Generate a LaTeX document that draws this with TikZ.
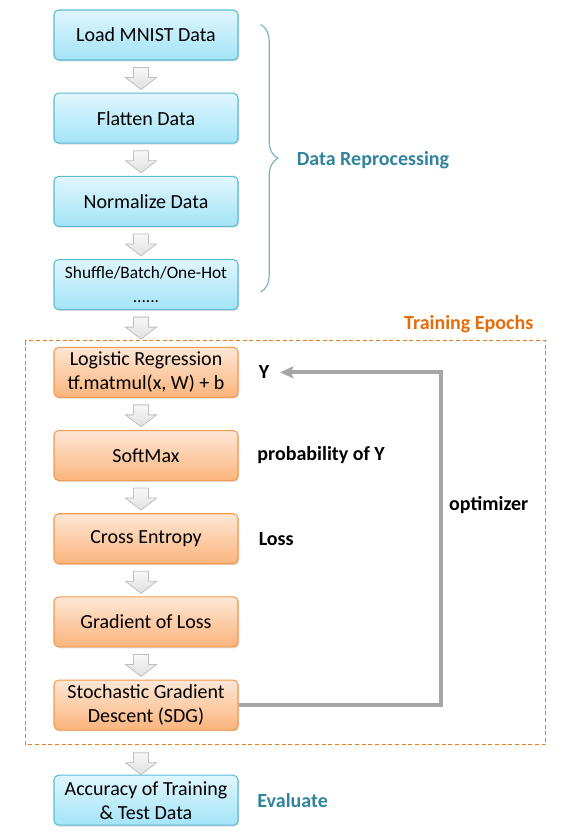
\documentclass[tikz,border=0pt]{standalone}
\usepackage{fontspec}
\setmainfont{Carlito}
\usetikzlibrary{calc}
\usetikzlibrary{arrows.meta}
\usetikzlibrary{positioning}
\usetikzlibrary{shadows}
\usetikzlibrary{decorations.pathreplacing}

\definecolor{cyantop}{HTML}{E0F6FD}
\definecolor{cyanbot}{HTML}{A3E4F7}
\definecolor{cyanline}{HTML}{5BBCD6}
\definecolor{orangetop}{HTML}{FDE7D6}
\definecolor{orangebot}{HTML}{FBB47C}
\definecolor{orangeline}{HTML}{F59A4E}
\definecolor{tealtext}{HTML}{31849B}
\definecolor{orangetext}{HTML}{E46C0A}
\definecolor{framecol}{HTML}{EC7C24}
\definecolor{bracecol}{HTML}{7FB2C6}
\definecolor{feedcol}{HTML}{A6A6A6}

\tikzset{
    box/.style={draw, line width=0.8pt, rounded corners=3.5pt,
        minimum width=138pt, minimum height=37.5pt, inner ysep=1pt, align=center,
        font=\fontsize{15}{18}\selectfont,
        drop shadow={shadow xshift=0.8pt, shadow yshift=-1pt, fill=black!40, opacity=0.35}},
    prepbox/.style={box, draw=cyanline, top color=cyantop, bottom color=cyanbot},
    trainbox/.style={box, draw=orangeline, top color=orangetop, bottom color=orangebot},
    sidelabel/.style={inner sep=0, anchor=west, font=\fontsize{15}{18}\selectfont\bfseries},
    feedback/.style={draw=feedcol, line width=3pt, -{Stealth[length=10pt, width=9pt, inset=2pt]}},
    downarrow/.pic={
        \path[draw=black!25, line width=0.6pt, top color=white!97!black, bottom color=black!12]
            (-7.5,0) -- (7.5,0) -- (7.5,10) -- (15.5,10) -- (0,22) -- (-15.5,10) -- (-7.5,10) -- cycle;
    },
}

\begin{document}
\begin{tikzpicture}[
    x=0.75pt, y=-0.75pt,
    node distance=24.1pt,
 ]
    \useasboundingbox (0,0) rectangle (564,837);

    % data preparation
    \node[prepbox] (load) at (146,35) {Load MNIST Data};
    \node[prepbox, below=of load] (flat) {Flatten Data};
    \node[prepbox, below=of flat] (norm) {Normalize Data};
    \node[prepbox, below=of norm, font=\fontsize{13}{18}\selectfont] (shuf) {Shuffle/Batch/One-Hot\\......};

    % training steps
    \node[trainbox, below=27.5pt of shuf] (logreg) {Logistic Regression\\tf.matmul(x, W) + b};
    \node[trainbox, below=of logreg] (soft) {SoftMax};
    \node[trainbox, below=of soft] (cross) {Cross Entropy};
    \node[trainbox, below=of cross] (grad) {Gradient of Loss};
    \node[trainbox, below=of grad] (sdg) {Stochastic Gradient\\Descent (SDG)};

    \node[prepbox, below=33pt of sdg] (acc) {Accuracy of Training\\\& Test Data};

    \foreach \a in {load,flat,norm,shuf,logreg,soft,cross,grad}
        \pic at ($(\a.south)+(-5,7)$) {downarrow};
    \pic at ($(sdg.south)+(-5,22)$) {downarrow};

    % brace and labels
    \draw[bracecol, line width=0.9pt, decoration={brace, amplitude=13pt}, decorate]
        ($(load.north east)+(22,15)$) -- ($(shuf.south east)+(22,-18)$);
    \node[sidelabel, tealtext, right=43.5pt of {$(load.east)!0.5!(shuf.east)$}] (preplab) {Data Reprocessing};

    \draw[framecol, line width=0.9pt, dash pattern=on 3pt off 2pt]
        ($(logreg.north west)+(-28,-6)$) rectangle ($(sdg.south east)+(307,14)$);
    \node[sidelabel, orangetext, anchor=east] (epochlab) at ($(logreg.north east)+(295,-23)$) {Training Epochs};

    \node[sidelabel, right=15pt of logreg] (ylab) {Y};
    \node[sidelabel, right=14pt of soft] (problab) {probability of Y};
    \node[sidelabel, right=15pt of cross] (losslab) {Loss};
    \node[sidelabel, tealtext, right=14pt of acc] (evallab) {Evaluate};

    \draw[feedback] (sdg.east) -- ++(202,0) |- node[pos=0.3, sidelabel, right=5pt] (optlab) {optimizer} ([xshift=8pt]ylab.east);
\end{tikzpicture}
\end{document}
